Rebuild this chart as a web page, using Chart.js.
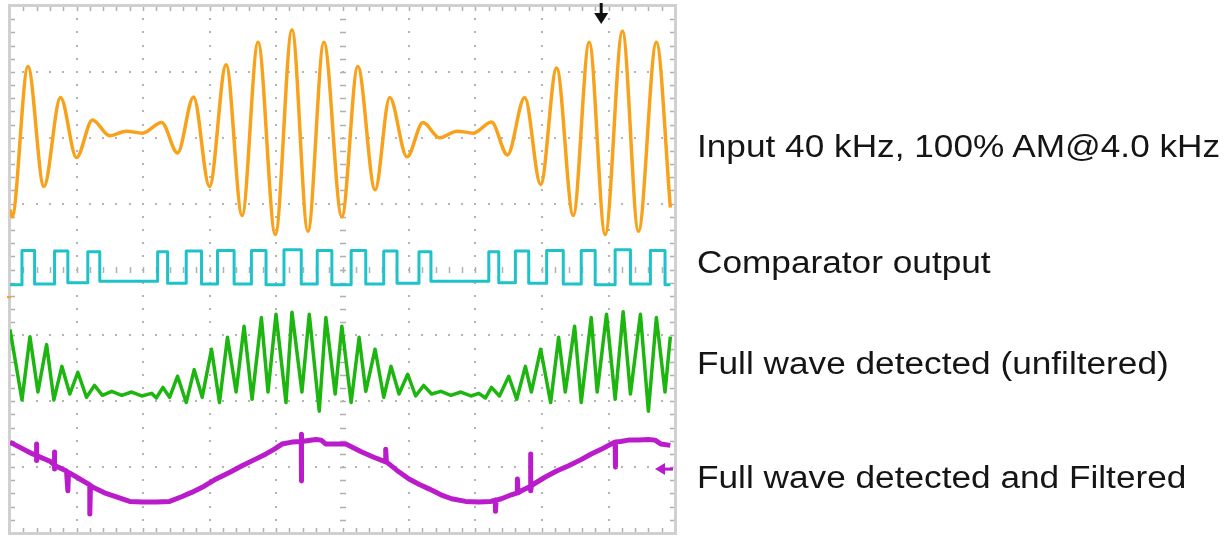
<!DOCTYPE html>
<html>
<head>
<meta charset="utf-8">
<script src="https://cdn.jsdelivr.net/npm/chart.js@4.4.1/dist/chart.umd.min.js"></script>
<style>
  html, body { margin: 0; padding: 0; background: #ffffff; }
  #wrap { position: relative; width: 1232px; height: 537px; overflow: hidden; }
  canvas { position: absolute; left: 0; top: 0; }
  .lbl { position: absolute; left: 697px; font-family: "Liberation Sans", Arial, Helvetica, sans-serif;
         font-size: 31px; line-height: 31px; color: #151515; white-space: nowrap;
         transform: scaleX(1.136); transform-origin: 0 0; }
</style>
</head>
<body>
<div id="wrap">
  <canvas id="c" width="1232" height="537"></canvas>
</div>
<script>
// ---- Graticule (divisions) ----
const majorX = [0,1,2,3,4,5,6,7,8,9,10];
const majorY = [0,1,2,3,4,5,6,7,8];
const minorPerDiv = 5;

// ---- Trace labels ----
const traceLabels = [
  "Input 40 kHz, 100% AM@4.0 kHz",
  "Comparator output",
  "Full wave detected (unfiltered)",
  "Full wave detected and Filtered"
];

// ---- Channel 1 (orange): input AM signal, time (div) / level (div) ----
const orangeT = [0.00,0.03,0.27,0.51,0.76,1.00,1.24,1.50,1.75,1.99,2.28,2.52,2.76,3.00,3.25,3.49,3.73,3.99,4.24,4.48,4.72,4.99,5.23,5.49,5.71,5.97,6.21,6.46,6.72,6.97,7.24,7.48,7.74,7.98,8.22,8.47,8.71,8.95,9.21,9.45,9.72,9.93];
const orangeV = [4.91,4.80,7.08,5.26,6.61,5.70,6.27,6.03,6.10,6.07,6.23,5.77,6.62,5.26,7.11,4.82,7.45,4.53,7.64,4.58,7.45,4.80,7.08,5.21,6.61,5.71,6.23,6.00,6.10,6.07,6.24,5.74,6.61,5.29,7.06,4.82,7.45,4.53,7.62,4.58,7.45,4.94];

// ---- Channel 2 (cyan): comparator output, edge times / level after edge ----
const cyanT = [0,0.18,0.37,0.67,0.87,1.17,1.35,2.22,2.37,2.65,2.88,3.12,3.37,3.63,3.85,4.12,4.38,4.62,4.84,5.13,5.35,5.62,5.82,6.15,6.33,7.20,7.35,7.60,7.80,8.07,8.32,8.59,8.80,9.10,9.33,9.63,9.85,9.93];
const cyanV = [3.77,4.29,3.78,4.28,3.80,4.27,3.82,4.27,3.79,4.28,3.78,4.29,3.78,4.29,3.77,4.30,3.78,4.29,3.77,4.29,3.78,4.28,3.79,4.27,3.82,4.27,3.80,4.28,3.79,4.29,3.78,4.29,3.77,4.30,3.78,4.29,3.77,3.77];

// ---- Channel 3 (green): full wave detected, unfiltered ----
const greenT = [0.00,0.18,0.30,0.42,0.55,0.66,0.78,0.90,1.02,1.15,1.27,1.39,1.53,1.68,1.83,1.98,2.13,2.20,2.30,2.40,2.52,2.65,2.77,2.89,3.03,3.15,3.27,3.40,3.52,3.64,3.78,3.88,4.00,4.15,4.24,4.39,4.50,4.65,4.75,4.89,4.99,5.13,5.25,5.35,5.49,5.62,5.73,5.85,5.98,6.10,6.22,6.34,6.48,6.63,6.78,6.93,7.05,7.15,7.24,7.36,7.50,7.62,7.75,7.84,7.98,8.13,8.25,8.35,8.49,8.59,8.74,8.83,8.97,9.10,9.22,9.33,9.48,9.60,9.72,9.85,9.93];
const greenV = [3.09,2.02,2.98,2.14,2.86,2.02,2.53,2.11,2.44,2.06,2.24,2.09,2.15,2.09,2.14,2.08,2.12,2.05,2.21,2.06,2.38,1.98,2.48,2.06,2.79,1.98,2.97,2.14,3.14,2.03,3.27,2.14,3.32,1.98,3.35,2.14,3.32,1.85,3.27,2.11,3.14,1.98,2.97,2.15,2.79,2.06,2.53,2.11,2.41,2.08,2.24,2.11,2.15,2.09,2.14,2.08,2.12,2.05,2.21,2.08,2.38,2.03,2.53,2.14,2.79,1.98,2.97,2.14,3.14,1.98,3.27,2.14,3.32,2.03,3.36,2.11,3.32,1.85,3.27,2.14,2.98];

// ---- Channel 4 (magenta): full wave detected and filtered (with glitches) ----
const magentaT = [0.00,0.15,0.34,0.40,0.40,0.40,0.41,0.60,0.67,0.67,0.67,0.68,0.85,0.87,0.88,1.05,1.20,1.20,1.21,1.24,1.42,1.60,1.80,1.99,2.20,2.40,2.58,2.74,2.92,3.10,3.30,3.49,3.67,3.85,3.97,4.09,4.24,4.38,4.38,4.38,4.39,4.60,4.68,4.75,4.95,5.05,5.17,5.29,5.47,5.65,5.65,5.66,5.82,6.00,6.15,6.30,6.48,6.64,6.85,7.05,7.23,7.30,7.30,7.31,7.39,7.54,7.63,7.63,7.64,7.69,7.83,7.83,7.83,7.84,7.87,8.05,8.22,8.40,8.58,8.74,8.89,9.04,9.10,9.10,9.11,9.18,9.30,9.45,9.60,9.70,9.79,9.93];
const magentaV = [1.38,1.30,1.20,1.18,1.35,1.10,1.17,1.09,1.03,1.23,0.97,1.02,0.94,0.64,0.92,0.82,0.73,0.29,0.72,0.70,0.61,0.55,0.48,0.47,0.47,0.48,0.55,0.62,0.71,0.82,0.92,1.02,1.11,1.20,1.27,1.35,1.38,1.39,0.79,1.50,1.39,1.42,1.41,1.35,1.35,1.35,1.29,1.23,1.15,1.08,1.27,1.08,0.95,0.82,0.74,0.67,0.58,0.52,0.48,0.47,0.48,0.50,0.33,0.50,0.52,0.58,0.61,0.82,0.61,0.64,0.71,1.20,0.64,0.71,0.74,0.85,0.94,1.02,1.11,1.20,1.27,1.35,1.38,1.00,1.38,1.39,1.41,1.41,1.42,1.41,1.35,1.33];

// ---- Markers ----
const triggerTime = [8.89];       // black trigger arrow at top
const ch4RefLevel = [0.97];       // magenta reference arrow on right
const ch1GroundLevel = [3.58];    // small orange ground marker on left

function pts(t, v) { return t.map((x, i) => ({ x: x, y: v[i] })); }

const graticule = {
  id: 'graticule',
  beforeDatasetsDraw(chart) {
    const { ctx, chartArea: a, scales: { x, y } } = chart;
    ctx.save();
    const xMax = majorX[majorX.length - 1], yMax = majorY[majorY.length - 1];
    const midX = xMax / 2, midY = yMax / 2;
    ctx.fillStyle = '#b4b4b4';
    for (const gx of majorX) {
      if (gx === 0 || gx === xMax || gx === midX) continue;
      const px = Math.round(x.getPixelForValue(gx));
      for (let m = 1; m < yMax * minorPerDiv; m++) {
        const py = Math.round(y.getPixelForValue(m / minorPerDiv));
        ctx.fillRect(px - 1, py - 1, 2, 2);
      }
    }
    for (const gy of majorY) {
      if (gy === 0 || gy === yMax || gy === midY) continue;
      const py = Math.round(y.getPixelForValue(gy));
      for (let m = 1; m < xMax * minorPerDiv; m++) {
        const px = Math.round(x.getPixelForValue(m / minorPerDiv));
        ctx.fillRect(px - 1, py - 1, 2, 2);
      }
    }
    ctx.strokeStyle = '#b0b0b0';
    ctx.lineWidth = 1.5;
    ctx.beginPath();
    const cy = Math.round(y.getPixelForValue(midY));
    for (let m = 1; m < xMax * minorPerDiv; m++) {
      const px = Math.round(x.getPixelForValue(m / minorPerDiv)) + 0.5;
      ctx.moveTo(px, cy - 3); ctx.lineTo(px, cy + 3);
    }
    const cx = Math.round(x.getPixelForValue(midX));
    for (let m = 1; m < yMax * minorPerDiv; m++) {
      const py = Math.round(y.getPixelForValue(m / minorPerDiv)) + 0.5;
      ctx.moveTo(cx - 3, py); ctx.lineTo(cx + 3, py);
    }
    for (let m = 1; m < xMax * minorPerDiv; m++) {
      const px = Math.round(x.getPixelForValue(m / minorPerDiv)) + 0.5;
      ctx.moveTo(px, a.top); ctx.lineTo(px, a.top + 5);
      ctx.moveTo(px, a.bottom); ctx.lineTo(px, a.bottom - 5);
    }
    for (let m = 1; m < yMax * minorPerDiv; m++) {
      const py = Math.round(y.getPixelForValue(m / minorPerDiv)) + 0.5;
      ctx.moveTo(a.left, py); ctx.lineTo(a.left + 5, py);
      ctx.moveTo(a.right, py); ctx.lineTo(a.right - 5, py);
    }
    ctx.stroke();
    ctx.strokeStyle = '#d0d0d0';
    ctx.lineWidth = 3;
    ctx.strokeRect(a.left - 0.5, a.top - 0.5, a.right - a.left + 1, a.bottom - a.top + 1);
    ctx.restore();
  },
  afterDatasetsDraw(chart) {
    const { ctx, chartArea: a, scales: { x, y } } = chart;
    ctx.save();
    for (const t of triggerTime) {
      const px = x.getPixelForValue(t);
      ctx.fillStyle = '#111111';
      ctx.fillRect(px - 1.5, a.top - 3, 3, 11);
      ctx.beginPath();
      ctx.moveTo(px - 7, a.top + 7);
      ctx.lineTo(px + 7, a.top + 7);
      ctx.lineTo(px, a.top + 18);
      ctx.closePath();
      ctx.fill();
    }
    for (const lv of ch4RefLevel) {
      const py = y.getPixelForValue(lv);
      ctx.fillStyle = '#b91bca';
      ctx.fillRect(a.right - 12, py - 1.5, 10, 3);
      ctx.beginPath();
      ctx.moveTo(a.right - 20, py);
      ctx.lineTo(a.right - 10, py - 6);
      ctx.lineTo(a.right - 10, py + 6);
      ctx.closePath();
      ctx.fill();
    }
    for (const lv of ch1GroundLevel) {
      const py = y.getPixelForValue(lv);
      ctx.fillStyle = '#f5a020';
      ctx.fillRect(a.left - 3, py - 1, 4, 2);
    }
    ctx.restore();
  }
};

const common = { pointRadius: 0, pointHoverRadius: 0, fill: false, tension: 0, borderJoinStyle: 'round' };

new Chart(document.getElementById('c'), {
  type: 'line',
  data: {
    datasets: [
      Object.assign({ label: traceLabels[3], data: pts(magentaT, magentaV), borderColor: '#bb1ccb', borderWidth: 5 }, common),
      Object.assign({ label: traceLabels[2], data: pts(greenT, greenV), borderColor: '#1db510', borderWidth: 3.5 }, common),
      Object.assign({ label: traceLabels[1], data: pts(cyanT, cyanV), borderColor: '#1ec2c9', borderWidth: 3, stepped: true }, common),
      Object.assign({ label: traceLabels[0], data: pts(orangeT, orangeV), borderColor: '#f8a21c', borderWidth: 3.5, cubicInterpolationMode: 'monotone' }, common)
    ]
  },
  options: {
    responsive: false,
    animation: false,
    devicePixelRatio: 1,
    layout: { padding: { left: 10, top: 6, right: 557, bottom: 4 } },
    scales: {
      x: { type: 'linear', min: majorX[0], max: majorX[majorX.length - 1], display: false },
      y: { type: 'linear', min: majorY[0], max: majorY[majorY.length - 1], display: false }
    },
    plugins: { legend: { display: false }, tooltip: { enabled: false } }
  },
  plugins: [graticule]
});

const labelTops = [131, 247, 348, 462];
const wrap = document.getElementById('wrap');
traceLabels.forEach((txt, i) => {
  const d = document.createElement('div');
  d.className = 'lbl';
  d.style.top = labelTops[i] + 'px';
  d.textContent = txt;
  wrap.appendChild(d);
});
</script>
</body>
</html>
